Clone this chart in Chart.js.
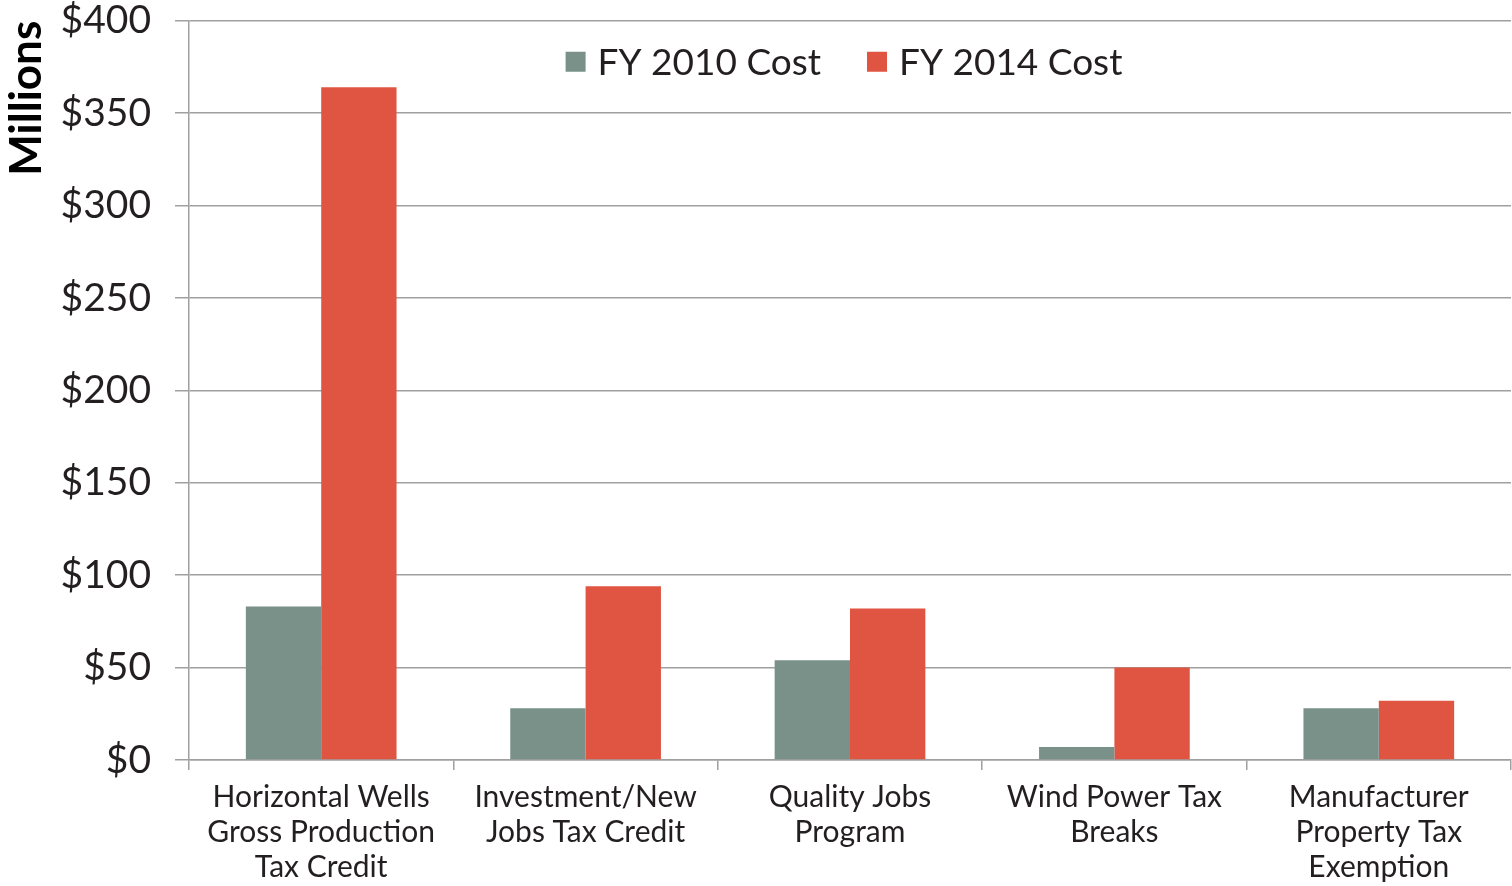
<!DOCTYPE html>
<html>
<head>
<meta charset="utf-8">
<script src="https://cdn.jsdelivr.net/npm/chart.js@4/dist/chart.umd.min.js"></script>
<style>
  html, body { margin: 0; padding: 0; background: #fff; overflow: hidden; }
  #wrap { width: 1512px; height: 899px; margin-top: -13px; }
</style>
</head>
<body>
<div id="wrap"><canvas id="chart"></canvas></div>
<script>
const categories = [
  ['Horizontal Wells', 'Gross Production', 'Tax Credit'],
  ['Investment/New', 'Jobs Tax Credit'],
  ['Quality Jobs', 'Program'],
  ['Wind Power Tax', 'Breaks'],
  ['Manufacturer', 'Property Tax', 'Exemption']
];
const fy2010 = [83, 28, 54, 7, 28];
const fy2014 = [364, 94, 82, 50, 32];
const seriesNames = ['FY 2010 Cost', 'FY 2014 Cost'];

const FONT = 'Lato, "Open Sans", sans-serif';
const TEXT = '#231f20';
const GRID = '#a0a0a0';

// legend drawn inside the plot, horizontally centred near the top
const insideLegend = {
  id: 'insideLegend',
  afterDraw(chart) {
    const ctx = chart.ctx;
    const area = chart.chartArea;
    const box = 20, gap = 12, between = 46;
    ctx.save();
    ctx.font = '37px ' + FONT;
    const items = chart.data.datasets.map(d => ({
      text: d.label, color: d.backgroundColor, w: ctx.measureText(d.label).width
    }));
    let total = 0;
    items.forEach((it, i) => { total += box + gap + it.w + (i ? between : 0); });
    let x = (area.left + area.right) / 2 - total / 2 - 6;
    const y = area.top + 41;
    ctx.textBaseline = 'middle';
    items.forEach(it => {
      ctx.fillStyle = it.color;
      ctx.fillRect(x, y - box / 2, box, box);
      ctx.fillStyle = TEXT;
      ctx.fillText(it.text, x + box + gap, y + 1);
      x += box + gap + it.w + between;
    });
    ctx.restore();
  }
};

new Chart(document.getElementById('chart'), {
  type: 'bar',
  data: {
    labels: categories,
    datasets: [
      { label: seriesNames[0], data: fy2010, backgroundColor: '#7a9189' },
      { label: seriesNames[1], data: fy2014, backgroundColor: '#e05442' }
    ]
  },
  options: {
    responsive: true,
    maintainAspectRatio: false,
    animation: false,
    layout: { padding: { top: 8, right: 1, left: 0, bottom: 0 } },
    datasets: { bar: { barPercentage: 1, categoryPercentage: 0.57 } },
    plugins: {
      tooltip: { enabled: false },
      legend: { display: false }
    },
    scales: {
      x: {
        grid: { display: true, drawOnChartArea: false, color: GRID, lineWidth: 1.5, tickLength: 10, offset: true },
        border: { color: GRID, width: 1.5 },
        ticks: { color: TEXT, font: { family: FONT, size: 30, lineHeight: 1.17 }, padding: 10, maxRotation: 0, autoSkip: false },
        afterFit: (s) => { s.height = 126; }
      },
      y: {
        min: 0,
        max: 400,
        ticks: {
          stepSize: 50,
          color: TEXT,
          font: { family: FONT, size: 39, lineHeight: 0.5 },
          padding: 24,
          callback: (v) => '$' + v
        },
        grid: { color: GRID, lineWidth: 1.5, tickLength: 14 },
        border: { color: GRID, width: 1.5 },
        title: {
          display: true,
          text: 'Millions',
          align: 'end',
          color: '#000',
          font: { family: FONT, size: 44, weight: 'bold' },
          padding: { top: 0, bottom: 0 }
        },
        afterFit: (s) => { s.width = 189; }
      }
    }
  },
  plugins: [insideLegend]
});
</script>
</body>
</html>
